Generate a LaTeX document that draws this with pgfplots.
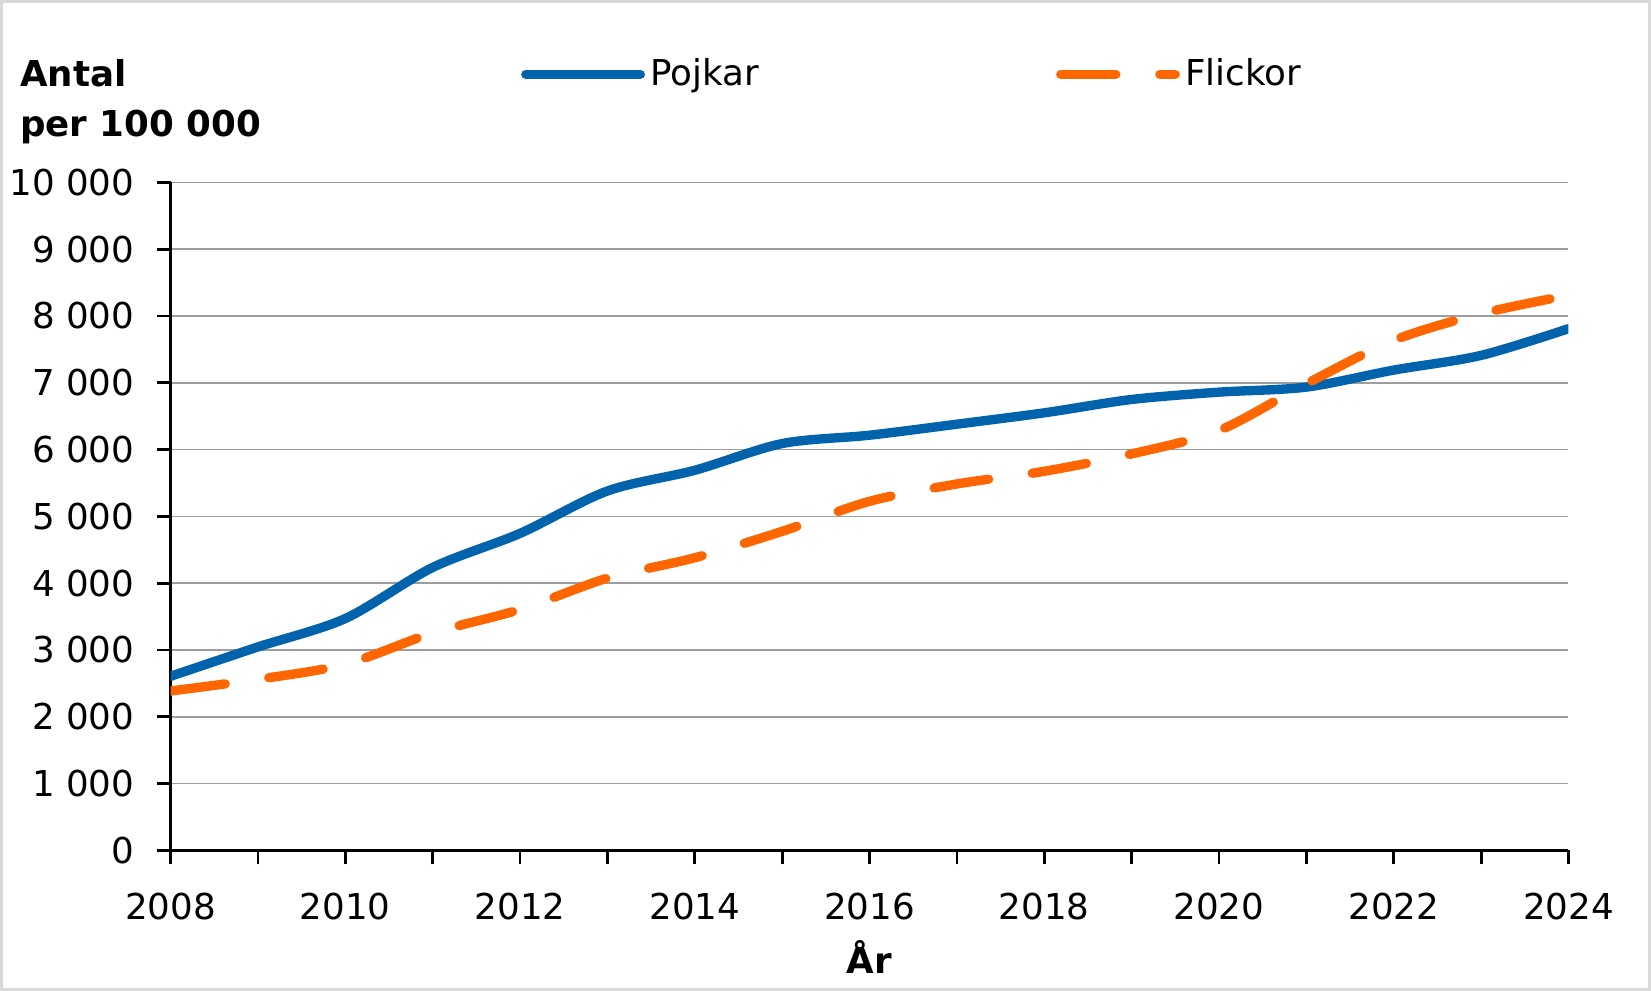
\documentclass[border=0pt]{standalone}
\usepackage{fontspec}
\setmainfont{DejaVu Sans}
\usepackage{pgfplots}
\pgfplotsset{compat=1.18}

\definecolor{pojkblue}{HTML}{0063AC}
\definecolor{flickorange}{HTML}{FF6600}

\begin{document}
\begin{tikzpicture}
\useasboundingbox (-62bp,-51bp) rectangle (538bp,309bp);
\draw[black!15, line width=1bp] (-61.5bp,-50.5bp) rectangle (537.5bp,308.5bp);
\begin{axis}[
  scale only axis,
  width=508bp, height=242.7bp,
  xmin=2008, xmax=2024, ymin=0, ymax=10000,
  xtick={2008,2010,...,2024},
  minor xtick={2009,2011,...,2023},
  ytick={0,1000,...,10000},
  scaled y ticks=false,
  axis x line=bottom, axis y line=left,
  axis line style={-, black, line width=1.1bp},
  tick align=outside,
  major tick length=5bp, minor tick length=5bp,
  tick style={black, line width=1bp},
  ymajorgrids,
  grid style={black!38, line width=0.6bp},
  font=\fontsize{13}{15.6}\selectfont,
  /pgf/number format/assume math mode=true,
  x tick label style={/pgf/number format/1000 sep=, anchor=base, yshift=-20.1bp},
  y tick label style={/pgf/number format/1000 sep={\ }, anchor=east, inner xsep=0pt, xshift=-8bp},
  xlabel={År},
  xlabel style={at={(axis description cs:0.5,0)}, anchor=base, yshift=-44.7bp,
    font=\fontsize{13}{15.6}\selectfont\bfseries},
  ylabel={Antal\\per 100 000},
  ylabel style={at={(axis description cs:-0.108,1.121)}, anchor=west, rotate=-90,
    align=left, inner xsep=0pt, font=\fontsize{13}{18.5}\selectfont\bfseries},
  legend columns=2,
  legend style={at={(axis description cs:0.2504,1.162)}, anchor=west, draw=none,
    fill=none, inner xsep=0pt, inner ysep=0pt,
    nodes={inner xsep=2bp},
    /tikz/every even column/.append style={column sep=106bp}},
  legend image code/.code={\draw[#1] (1.7bp,0bp) -- (43.3bp,0bp);},
  every axis plot/.append style={line width=3.4bp, smooth, tension=0.5},
]
\addplot[pojkblue, line cap=round] coordinates {
  (2008,2605) (2009,3045) (2010,3470) (2011,4235) (2012,4745) (2013,5380)
  (2014,5690) (2015,6090) (2016,6215) (2017,6380) (2018,6550) (2019,6750)
  (2020,6860) (2021,6935) (2022,7190) (2023,7410) (2024,7810)};
\addlegendentry{Pojkar}
\addplot[flickorange, line cap=round, dash pattern=on 20bp off 16bp] coordinates {
  (2008,2385) (2009,2560) (2010,2785) (2011,3255) (2012,3605) (2013,4075)
  (2014,4380) (2015,4775) (2016,5225) (2017,5485) (2018,5675) (2019,5935)
  (2020,6285) (2021,6985) (2022,7635) (2023,8035) (2024,8310)};
\addlegendentry{Flickor}
\end{axis}
\end{tikzpicture}
\end{document}
